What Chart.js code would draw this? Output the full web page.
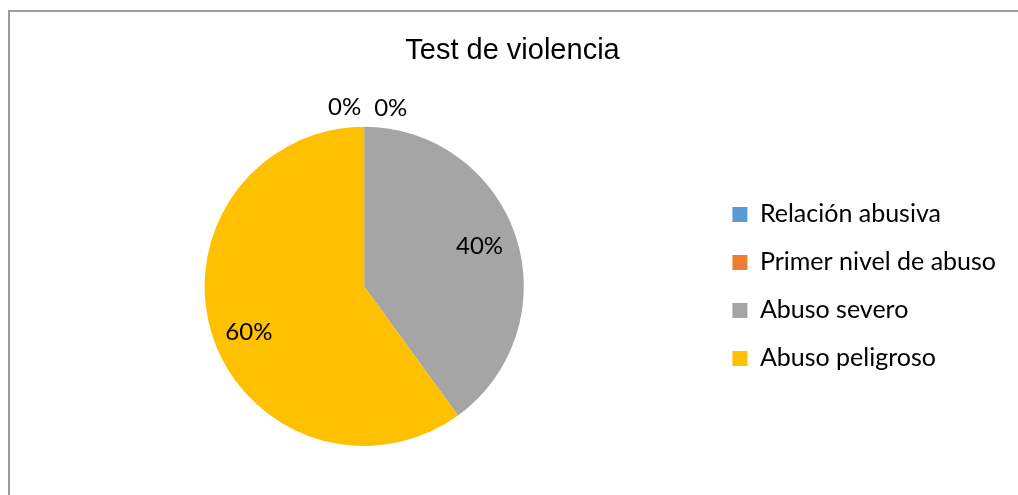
<!DOCTYPE html>
<html>
<head>
<meta charset="utf-8">
<script src="https://cdn.jsdelivr.net/npm/chart.js@4"></script>
<style>
    html, body { margin: 0; padding: 0; background: #fff; overflow: hidden; }
    #frame { position: absolute; left: 8px; top: 10px; width: 1100px; height: 600px; border: 2px solid #9c9c9c; }
    #wrap { position: absolute; left: 0; top: 0; width: 1018px; height: 495px; }
</style>
</head>
<body>
<div id="frame"></div>
<div id="wrap"><canvas id="pieChart" width="1018" height="495"></canvas></div>
<script>
'use strict';

var chartTitle = 'Test de violencia';
var labels = ['Relación abusiva', 'Primer nivel de abuso', 'Abuso severo', 'Abuso peligroso'];
var values = [0, 0, 40, 60];
var colors = ['#5B9BD5', '#ED7D31', '#A5A5A5', '#FFC000'];

var labelFont = '24px Lato';

// draws the percentage labels on (or next to) each slice
var pieLabels = {
    id: 'pieLabels',
    afterDatasetsDraw: function (chart) {
        var ctx = chart.ctx;
        var meta = chart.getDatasetMeta(0);
        var data = chart.data.datasets[0].data;
        var total = 0;
        for (var i = 0; i < data.length; i++) {
            total += data[i];
        }
        var zeroCount = 0;
        ctx.save();
        ctx.font = labelFont;
        ctx.fillStyle = '#000';
        ctx.textBaseline = 'middle';
        for (var j = 0; j < meta.data.length; j++) {
            var arc = meta.data[j];
            var text = Math.round(data[j] / total * 100) + '%';
            var mid = (arc.startAngle + arc.endAngle) / 2;
            if (data[j] === 0) {
                var r0 = arc.outerRadius + 20;
                var x0 = arc.x + Math.cos(mid) * r0;
                var y0 = arc.y + Math.sin(mid) * r0;
                if (zeroCount === 0) {
                    ctx.textAlign = 'right';
                    ctx.fillText(text, x0 - 3, y0);
                } else {
                    ctx.textAlign = 'left';
                    ctx.fillText(text, x0 + 10, y0 + 1);
                }
                zeroCount++;
            } else {
                var r = arc.outerRadius * 0.76;
                var dy = Math.sin(mid) > 0.2 ? 8 : -3;
                ctx.textAlign = 'center';
                ctx.fillText(text, arc.x + Math.cos(mid) * r, arc.y + Math.sin(mid) * r + dy);
            }
        }
        ctx.restore();
    }
};

function createPieChart() {
    var ctx = document.getElementById('pieChart').getContext('2d');

    return new Chart(ctx, {
        type: 'pie',
        data: {
            labels: labels,
            datasets: [{
                data: values,
                backgroundColor: colors,
                borderWidth: 0
            }]
        },
        options: {
            responsive: false,
            animation: false,
            layout: {
                padding: { left: 19, right: 12, top: 0, bottom: 49 }
            },
            plugins: {
                title: {
                    display: true,
                    text: chartTitle,
                    color: '#000',
                    font: { family: 'Liberation Sans', size: 29, weight: 'normal' },
                    padding: { top: 34, bottom: 58 }
                },
                legend: {
                    position: 'right',
                    fullSize: false,
                    labels: {
                        color: '#000',
                        font: { family: 'Lato', size: 25 },
                        boxWidth: 15,
                        boxHeight: 15,
                        padding: 23
                    }
                },
                tooltip: { enabled: false }
            }
        },
        plugins: [pieLabels]
    });
}

createPieChart();
</script>
</body>
</html>
